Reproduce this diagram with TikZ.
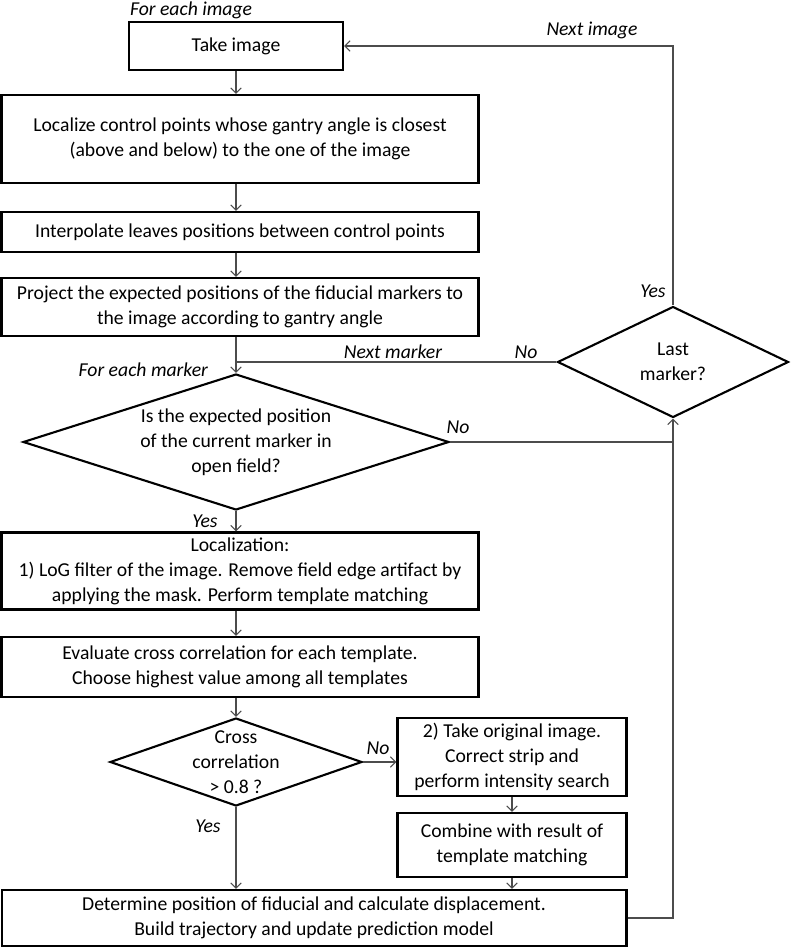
\documentclass[tikz,border=0pt]{standalone}
\usepackage{fontspec}
\setmainfont{Carlito}
\usetikzlibrary{shapes.geometric,arrows.meta}

\begin{document}
\begin{tikzpicture}[x=0.02cm, y=-0.02cm,
  box/.style = {draw, very thick, rectangle, align=center, inner sep=0pt},
  dia/.style = {draw, very thick, diamond, inner sep=0pt},
  lbl/.style = {font=\fontsize{11.2}{14.2}\selectfont\itshape, inner sep=1pt},
  line/.style = {draw=black!70, line width=0.6pt},
  >={Straight Barb[length=3pt,width=6pt]},
  font=\fontsize{11.2}{14.2}\selectfont]
				\useasboundingbox (0,0) rectangle (793,949);
				% main column
				\node[box, minimum width=4.28cm, minimum height=0.96cm] (take) at (236,46) {Take image};
				\node[lbl, anchor=south west] (eachimg) at (take.north west) {For each image};
				\node[box, minimum width=9.54cm, minimum height=1.76cm] (loc) at (240,139) {Localize control points whose gantry angle is closest\\(above and below) to the one of the image};
				\node[box, minimum width=9.54cm, minimum height=0.8cm] (interp) at (240,232) {Interpolate leaves positions between control points};
				\node[box, minimum width=9.54cm, minimum height=1.16cm] (proj) at (240,307) {Project the expected positions of the fiducial markers to\\the image according to gantry angle};
				\node[dia, minimum width=8.52cm, minimum height=2.72cm] (q1) at (236,442) {};
				\node[align=center] (q1txt) at (q1) {Is the expected position\\of the current marker in\\open field?};
				\node[box, minimum width=9.54cm, minimum height=1.54cm] (locz) at (240,571) {Localization:\\1) LoG filter of the image. Remove field edge artifact by\\applying the mask. Perform template matching};
				\node[box, minimum width=9.54cm, minimum height=1.2cm] (eval) at (240,667) {Evaluate cross correlation for each template.\\Choose highest value among all templates};
				\node[dia, minimum width=5.04cm, minimum height=1.76cm] (q2) at (236,762) {};
				\node[align=center] (q2txt) at (q2) {Cross\\correlation\\> 0.8 ?};
				\node[box, minimum width=4.58cm, minimum height=1.56cm] (search) at (512,757) {2) Take original image.\\Correct strip and\\perform intensity search};
				\node[box, minimum width=4.58cm, minimum height=1.28cm] (comb) at (512,845) {Combine with result of\\template matching};
				\node[box, minimum width=12.5cm, minimum height=1.12cm] (det) at (314,918) {Determine position of fiducial and calculate displacement.\\Build trajectory and update prediction model};
				% loop decision
				\node[dia, minimum width=4.62cm, minimum height=2.22cm] (last) at (673,362) {};
				\node[align=center] (lasttxt) at (last) {Last\\marker?};
				% connectors
				\draw[line,->] (take.south) -- (take.south |- loc.north);
				\draw[line,->] (take.south |- loc.south) -- (take.south |- interp.north);
				\draw[line,->] (take.south |- interp.south) -- (take.south |- proj.north);
				\draw[line,->] (take.south |- proj.south) -- (q1.north);
				\draw[line] (last.west) -- (q1.north |- last.west);
				\draw[line,->] (q1.south) -- (q1.south |- locz.north);
				\draw[line,->] (q1.south |- locz.south) -- (q1.south |- eval.north);
				\draw[line,->] (q1.south |- eval.south) -- (q2.north);
				\draw[line,->] (q2.east) -- (q2.east -| search.west);
				\draw[line,->] (search.south) -- (comb.north);
				\draw[line,->] (comb.south) -- (comb.south |- det.north);
				\draw[line,->] (q2.south) -- (q2.south |- det.north);
				\draw[line,->] (det.east) -| (last.south);
				\draw[line] (q1.east) -- (q1.east -| last.south);
				\draw[line,->] (last.north) |- (take.east);
				% labels
				\node[lbl] (nextimg) at (592,30) {Next image};
				\node[lbl] (yes3) at (653,291) {Yes};
				\node[lbl] (nextmk) at (393,352) {Next marker};
				\node[lbl] (no1) at (526,352) {No};
				\node[lbl, anchor=east] (eachmk) at (210,370) {For each marker};
				\node[lbl] (no2) at (458,427) {No};
				\node[lbl] (yes1) at (205,521) {Yes};
				\node[lbl] (no3) at (378,748) {No};
				\node[lbl] (yes2) at (208,826) {Yes};
			\end{tikzpicture}
\end{document}
